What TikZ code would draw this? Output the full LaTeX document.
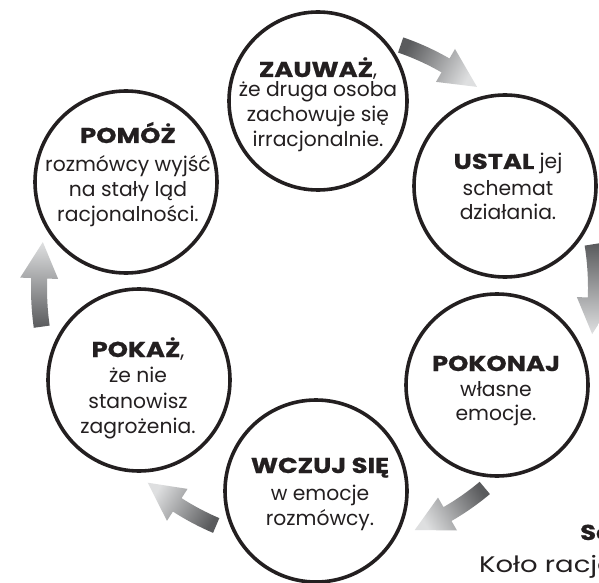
\documentclass[tikz,border=0pt]{standalone}
\usepackage{fontspec}
\setmainfont{Poppins}
\newfontfamily\widebold{Poppins}[FakeStretch=1.2, FakeBold=0.8]
\newfontfamily\widecap{Poppins}[FakeStretch=1.22]
\definecolor{ink}{HTML}{231F20}
\definecolor{arrdark}{HTML}{5A5B5D}
\definecolor{arrlight}{HTML}{DEDFE0}
\newcommand\hd[1]{{\widebold\bfseries\fontsize{21.5}{25}\selectfont #1}}
\tikzset{
  ring/.style={circle, draw=ink, line width=3.6pt, inner sep=0pt, minimum size=#1},
  ring/.default=182pt,
  txt/.style={align=center, anchor=base, inner sep=0pt, text=ink,
    font=\fontsize{20.3}{25}\selectfont},
  captxt/.style={anchor=base west, inner sep=0pt, text=ink,
    font=\widecap\fontsize{22.5}{25}\selectfont},
  arrowshade/.style={top color=arrlight, bottom color=arrdark}
}
% #1 radius, #2 tail angle, #3 head-base angle, #4 tip angle, #5 shading angle
\newcommand\ringarrow[5]{%
  \shade[arrowshade, shading angle=#5]
    (#2:#1+8) arc[start angle=#2, end angle=#3, radius=#1+8]
    -- (#3:#1+19) -- (#4:#1) -- (#3:#1-19) -- (#3:#1-8)
    arc[start angle=#3, end angle=#2, radius=#1-8] -- cycle;}
\begin{document}
\begin{tikzpicture}[x=1pt, y=1pt]
\useasboundingbox (0,0) rectangle (599,582);
\clip (0,0) rectangle (599,582);
\fill[white] (0,0) rectangle (599,582);

% curved arrows around the ring centre
\begin{scope}[shift={(317,294)}]
  \ringarrow{257}{71}{60}{51.5}{-118.75}
  \ringarrow{279}{9}{-2}{-9.5}{-180.25}
  \ringarrow{261}{-50}{-60}{-68}{-239}
  \ringarrow{258}{-113}{-122.8}{-131}{-302}
  \ringarrow{278}{-172}{-182}{-189.5}{-360.75}
\end{scope}

% circles
\node[ring=178pt] (cA) at (318,481) {};
\node[ring] (cB) at (505,396) {};
\node[ring] (cC) at (497,197) {};
\node[ring] (cD) at (316,91) {};
\node[ring] (cE) at (139,202) {};
\node[ring] (cF) at (126,400) {};

% texts (anchored at the baseline of the last line)
\node[txt] (tA) at (318,435) {\hd{ZAUWAŻ},\\[-5pt] że druga osoba\\ zachowuje się\\ irracjonalnie.};
\node[txt] (tB) at (508,362) {\hd{USTAL} jej\\[2pt] schemat\\[-1pt] działania.};
\node[txt] (tC) at (496,162) {\hd{POKONAJ}\\ własne\\[-1pt] emocje.};
\node[txt] (tD) at (320,57) {\hd{WCZUJ SIĘ}\\[2pt] w emocje\\ rozmówcy.};
\node[txt] (tE) at (138,149) {\hd{POKAŻ},\\ że nie\\[1pt] stanowisz\\ zagrożenia.};
\node[txt] (tF) at (128,360) {\hd{POMÓŻ}\\[4pt] rozmówcy wyjść\\ na stały ląd\\ racjonalności.};

% caption (cut by the right edge, as in the source)
\node[captxt] (capA) at (580,42) {\hd{Sc}};
\node[captxt] (capB) at (479,10) {Koło racjo};
\end{tikzpicture}
\end{document}
